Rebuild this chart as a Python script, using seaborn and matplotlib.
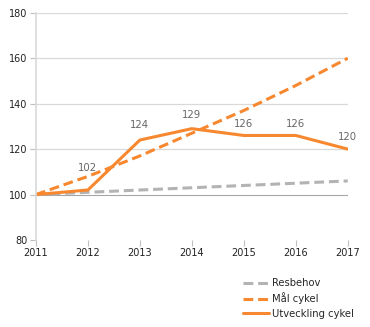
import matplotlib
matplotlib.use("Agg")
import matplotlib.pyplot as plt
import seaborn as sns
import pandas as pd

years = [2011, 2012, 2013, 2014, 2015, 2016, 2017]
resbehov = [100, 101, 102, 103, 104, 105, 106]
mal_cykel = [100, 108, 117, 127, 137, 148, 160]
utveckling = [100, 102, 124, 129, 126, 126, 120]
labels_utv = ["", "102", "124", "129", "126", "126", "120"]
yticks = [80, 100, 120, 140, 160, 180]

sns.set_theme(style="white")
plt.rcParams['font.family'] = ['DejaVu Sans']

orange = "#F7882F"
gray = "#B3B3B3"

fig = plt.figure(figsize=(3.7, 3.27), dpi=100)
ax = fig.add_axes([0.097, 0.266, 0.843, 0.695])

df = pd.DataFrame({"year": years, "Resbehov": resbehov,
                   "Mål cykel": mal_cykel, "Utveckling cykel": utveckling})

for y in [120, 140, 160, 180]:
    ax.axhline(y, color="#D9D9D9", lw=0.9, zorder=0)
ax.axhline(100, color="#A6A6A6", lw=0.8, zorder=0)

sns.lineplot(data=df, x="year", y="Resbehov", ax=ax, color=gray, lw=2.2,
             linestyle=(0, (3.2, 1.6)), label="Resbehov")
sns.lineplot(data=df, x="year", y="Mål cykel", ax=ax, color=orange, lw=2.2,
             linestyle=(0, (3.2, 1.6)), label="Mål cykel")
sns.lineplot(data=df, x="year", y="Utveckling cykel", ax=ax, color=orange, lw=2.2,
             label="Utveckling cykel")

offsets = [0, 12, 7, 6, 5, 5, 5]
for x, v, t, o in zip(years, utveckling, labels_utv, offsets):
    if t:
        ax.annotate(t, (x, v), xytext=(0, o), textcoords="offset points",
                    ha="center", va="bottom", fontsize=7.3, color="#666666")

ax.set_xlim(years[0], years[-1])
ax.set_ylim(80, 180)
ax.set_xticks(years)
ax.set_xticklabels([str(y) for y in years])
ax.set_yticks(yticks)
ax.set_xlabel("")
ax.set_ylabel("")
for s in ["top", "right", "bottom"]:
    ax.spines[s].set_visible(False)
ax.spines["left"].set_color("#D9D9D9")
ax.spines["left"].set_linewidth(1.2)
ax.tick_params(axis="both", which="major", length=4, width=0.8, color="#BFBFBF",
               labelsize=7, labelcolor="#222222", left=True, bottom=True, pad=2)

handles, lbls = ax.get_legend_handles_labels()
ax.get_legend().remove()
fig.legend(handles, lbls, loc="upper left", bbox_to_anchor=(0.645, 0.162),
           frameon=False, fontsize=7.2, handlelength=2.6, handletextpad=0.3,
           labelspacing=0.45, borderaxespad=0)

fig.savefig("out.png", dpi=100)
